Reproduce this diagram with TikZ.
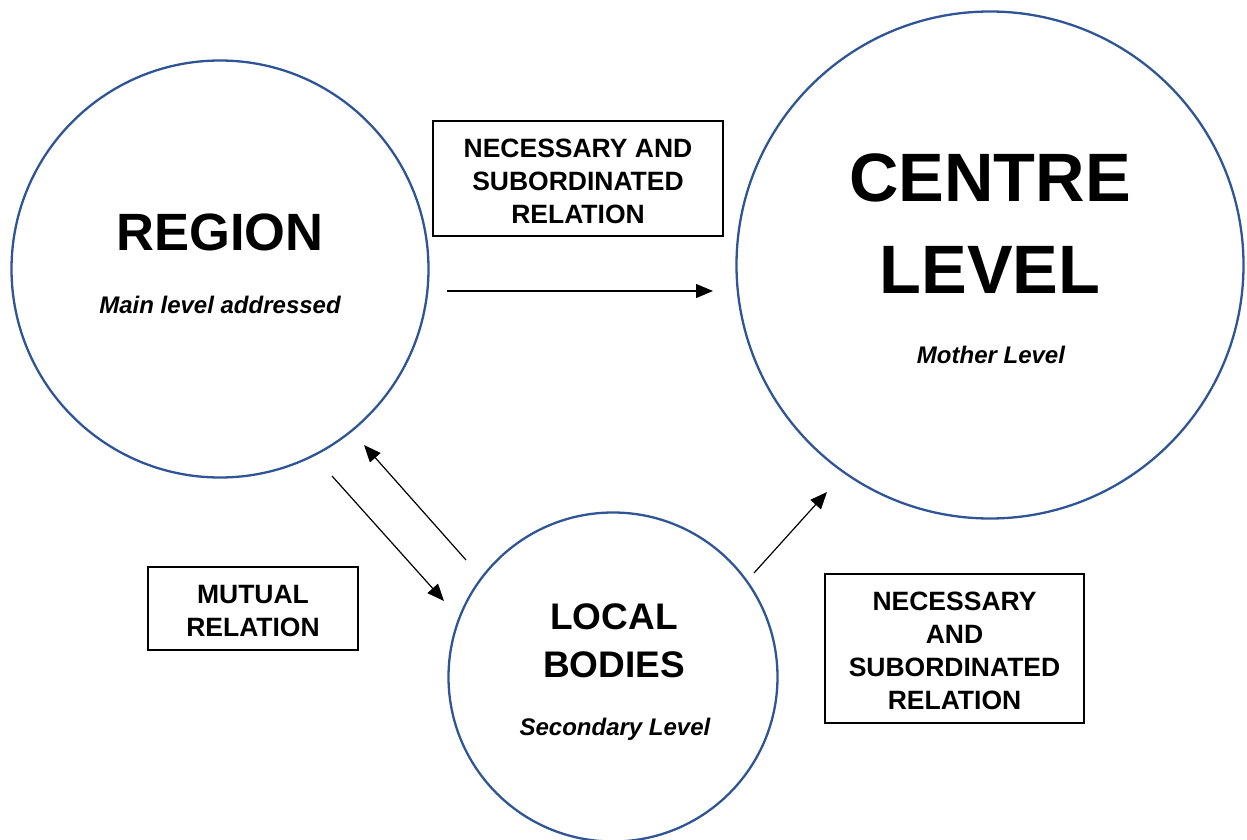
\documentclass[tikz,border=0pt]{standalone}
\usepackage{fontspec}
\setmainfont{Liberation Sans}
\usetikzlibrary{arrows.meta}
\definecolor{ringblue}{HTML}{2F5597}
\tikzset{
  ring/.style={circle, draw=ringblue, line width=2.3pt, inner sep=0pt},
  relbox/.style={draw=black, line width=1.5pt, inner sep=0pt},
  relboxtext/.style={align=center, inner sep=0pt,
    font=\bfseries\fontsize{26.5}{33}\selectfont},
  bigtitle/.style={font=\bfseries\fontsize{52.5}{60}\selectfont},
  huge title/.style={font=\bfseries\fontsize{68.5}{92}\selectfont, align=center},
  midtitle/.style={font=\bfseries\fontsize{37}{48}\selectfont, align=center},
  sublabel/.style={font=\bfseries\itshape\fontsize{24}{28}\selectfont},
  flow/.style={line width=1.2pt, -{Triangle[length=17pt,width=14pt]}}
}
\begin{document}
\begin{tikzpicture}[x=1pt,y=-1pt]
\useasboundingbox (0,0) rectangle (1247,840);

% the three levels
\node[ring, minimum size=417pt] (region) at (220,269) {};
\node[ring, minimum size=507pt] (centre) at (990,265) {};
\node[ring, minimum size=329pt] (local) at (613,677) {};

\node[bigtitle] (regiontitle) at (220,232) {REGION};
\node[sublabel] (regionsub) at (220,305) {Main level addressed};

\node[huge title] (centretitle) at (990,224) {CENTRE\\LEVEL};
\node[sublabel] (centresub) at (991,355) {Mother Level};

\node[midtitle] (localtitle) at (614,641) {LOCAL\\BODIES};
\node[sublabel] (localsub) at (615,729) {Secondary Level};

% relation boxes, the text set a little below the box centre
\node[relbox, minimum width=290pt, minimum height=115pt,
  label={[relboxtext, yshift=-3pt]center:{NECESSARY AND\\SUBORDINATED\\RELATION}}]
  (box1) at (578,178.5) {};
\node[relbox, minimum width=210pt, minimum height=83pt,
  label={[relboxtext, yshift=-3pt]center:{MUTUAL\\RELATION}}]
  (box2) at (253,608.5) {};
\node[relbox, minimum width=259pt, minimum height=149pt,
  label={[relboxtext, yshift=-2pt]center:{NECESSARY\\AND\\SUBORDINATED\\RELATION}}]
  (box3) at (954.5,648.5) {};

% arrow end points
\coordinate (a1s) at (447,291);
\coordinate (a1e) at (713,291);
\coordinate (a2s) at (332,476);
\coordinate (a2e) at (444,601);
\coordinate (a3s) at (466,560);
\coordinate (a3e) at (364,445);
\coordinate (a4s) at (754,573);
\coordinate (a4e) at (827,492);

\draw[flow] (a1s) -- (a1e);
\draw[flow] (a2s) -- (a2e);
\draw[flow] (a3s) -- (a3e);
\draw[flow] (a4s) -- (a4e);
\end{tikzpicture}
\end{document}
